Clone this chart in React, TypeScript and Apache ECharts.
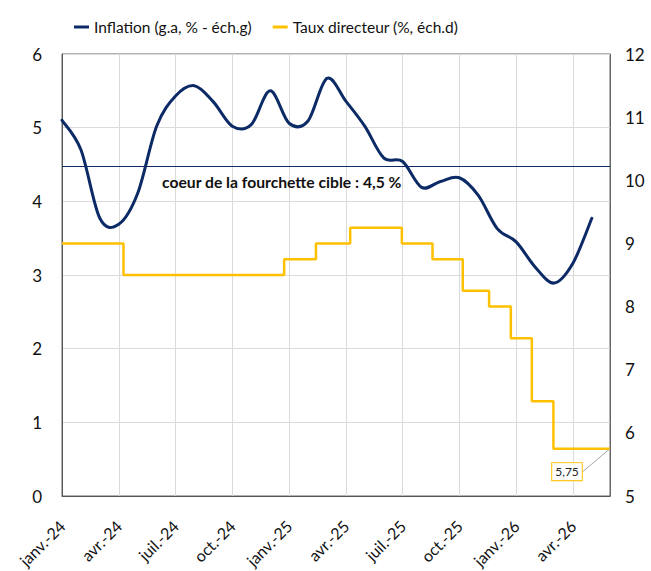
import React, { useEffect, useRef } from "react";
import * as echarts from "echarts";

// Quarterly tick labels (every 3 months from janv.-24)
const tickLabels = [
  "janv.-24", "avr.-24", "juil.-24", "oct.-24",
  "janv.-25", "avr.-25", "juil.-25", "oct.-25",
  "janv.-26", "avr.-26",
];

// Monthly inflation (g.a, %), janv.-24 .. mai-26 (left axis)
const inflation = [
  5.1, 4.7, 3.77, 3.69, 4.11, 5.02, 5.43, 5.57, 5.35, 5.02,
  5.04, 5.5, 5.06, 5.09, 5.67, 5.36, 5.02, 4.59, 4.54, 4.19,
  4.27, 4.32, 4.08, 3.63, 3.45, 3.11, 2.89, 3.16, 3.77,
];

// Policy rate change points (months since janv.-24) and values (right axis)
const rateChangeMonths = [0, 3.25, 11.74, 13.42, 15.23, 17.96, 19.58, 21.18, 22.57, 23.72, 24.83, 25.97, 28.96];
const rateValues = [9, 8.5, 8.75, 9, 9.25, 9, 8.75, 8.25, 8, 7.5, 6.5, 5.75, 5.75];

const axisEnd = 28.96;
const targetValue = 4.47;
const targetLabel = "coeur de la fourchette cible : 4,5 %";
const lastRateLabel = "5,75";

const seriesNames = ["Inflation (g.a, % - éch.g)", "Taux directeur (%, éch.d)"];

export default function App() {
  const ref = useRef<HTMLDivElement>(null);

  useEffect(() => {
    const chart = echarts.init(ref.current!, null, { renderer: "svg" });
    const font = 'Lato, "Open Sans", sans-serif';
    const navy = "#0b2a66";
    const gold = "#FFC000";

    const inflationData = inflation.map((v, i) => [i, v]);

    const rateData = rateChangeMonths.map((m, i) =>
      i === rateChangeMonths.length - 1
        ? {
            value: [m, rateValues[i]],
            symbol: "circle",
            symbolSize: 1,
            itemStyle: { color: "rgba(0,0,0,0)" },
            label: {
              show: true,
              position: "inside",
              formatter: lastRateLabel,
              color: "#222",
              fontSize: 12,
              fontFamily: font,
              backgroundColor: "#fff",
              borderColor: gold,
              borderWidth: 1,
              padding: [3, 3, 2, 3],
            },
            labelLine: { show: true, lineStyle: { color: "#a6a6a6", width: 1 } },
          }
        : [m, rateValues[i]]
    );

    // Excel-like smoothed curve (Catmull-Rom through the data points)
    const renderInflation = (params: any, api: any) => {
      if (params.dataIndex !== 0) return null;
      const pts = inflationData.map((p) => api.coord(p));
      const n = pts.length;
      let d = `M${pts[0][0]},${pts[0][1]}`;
      for (let i = 0; i < n - 1; i++) {
        const p0 = pts[Math.max(i - 1, 0)];
        const p1 = pts[i];
        const p2 = pts[i + 1];
        const p3 = pts[Math.min(i + 2, n - 1)];
        const c1x = p1[0] + (p2[0] - p0[0]) / 6;
        const c1y = p1[1] + (p2[1] - p0[1]) / 6;
        const c2x = p2[0] - (p3[0] - p1[0]) / 6;
        const c2y = p2[1] - (p3[1] - p1[1]) / 6;
        d += ` C${c1x},${c1y} ${c2x},${c2y} ${p2[0]},${p2[1]}`;
      }
      return {
        type: "path",
        shape: { pathData: d },
        style: { stroke: navy, lineWidth: 3, fill: "none", lineJoin: "round", lineCap: "round" },
      };
    };

    chart.setOption({
      animation: false,
      textStyle: { fontFamily: font },
      legend: {
        top: 14,
        left: 69,
        icon: "rect",
        itemWidth: 15,
        itemHeight: 3,
        itemGap: 21,
        textStyle: { fontSize: 15.5, color: "#111", fontFamily: font },
        data: seriesNames,
      },
      grid: {
        left: 62,
        right: 41,
        top: 54,
        bottom: 75,
        show: true,
        borderColor: "#666",
        borderWidth: 1,
      },
      xAxis: {
        type: "value",
        min: 0,
        max: axisEnd,
        interval: 3,
        axisLine: { show: true, lineStyle: { color: "#555" } },
        axisTick: { show: false },
        splitLine: { show: true, lineStyle: { color: "#dadada" } },
        axisLabel: {
          rotate: 45,
          margin: 27,
          fontSize: 16,
          color: "#111",
          fontFamily: font,
          showMaxLabel: false,
          formatter: (v: number) => {
            const i = Math.round(v / 3);
            return Math.abs(v - i * 3) < 1e-6 && i < tickLabels.length ? tickLabels[i] : "";
          },
        },
      },
      yAxis: [
        {
          type: "value",
          min: 0,
          max: 6,
          interval: 1,
          axisLine: { show: true, lineStyle: { color: "#555" } },
          axisTick: { show: false },
          splitLine: { show: true, lineStyle: { color: "#dadada" } },
          axisLabel: { fontSize: 17, color: "#111", margin: 20, fontFamily: font },
        },
        {
          type: "value",
          min: 5,
          max: 12,
          interval: 1,
          position: "right",
          axisLine: { show: true, lineStyle: { color: "#666" } },
          axisTick: { show: false },
          splitLine: { show: false },
          axisLabel: { fontSize: 17, color: "#111", margin: 15, fontFamily: font },
        },
      ],
      series: [
        {
          name: seriesNames[0],
          type: "custom",
          xAxisIndex: 0,
          yAxisIndex: 0,
          data: inflationData,
          encode: { x: 0, y: 1 },
          renderItem: renderInflation,
          itemStyle: { color: navy },
          z: 3,
        },
        {
          name: "cible",
          type: "line",
          yAxisIndex: 0,
          data: inflationData,
          symbol: "none",
          silent: true,
          lineStyle: { opacity: 0 },
          markLine: {
            silent: true,
            symbol: ["none", "none"],
            lineStyle: { color: navy, width: 1, type: "solid" },
            label: {
              show: true,
              position: "insideStartBottom",
              distance: [100, 7],
              formatter: targetLabel,
              fontSize: 15.7,
              fontWeight: "bold",
              color: "#111",
              fontFamily: font,
            },
            data: [{ yAxis: targetValue }],
          },
        },
        {
          name: seriesNames[1],
          type: "line",
          yAxisIndex: 1,
          data: rateData,
          step: "end",
          symbol: "none",
          clip: false,
          lineStyle: { color: gold, width: 2.5 },
          itemStyle: { color: gold },
          labelLayout: { dx: -43, dy: 23 },
          z: 2,
        },
      ],
    });

    return () => chart.dispose();
  }, []);

  return (
    <div
      ref={ref}
      style={{ position: "fixed", left: 0, top: 0, width: 651, height: 571, background: "#fff" }}
    />
  );
}
